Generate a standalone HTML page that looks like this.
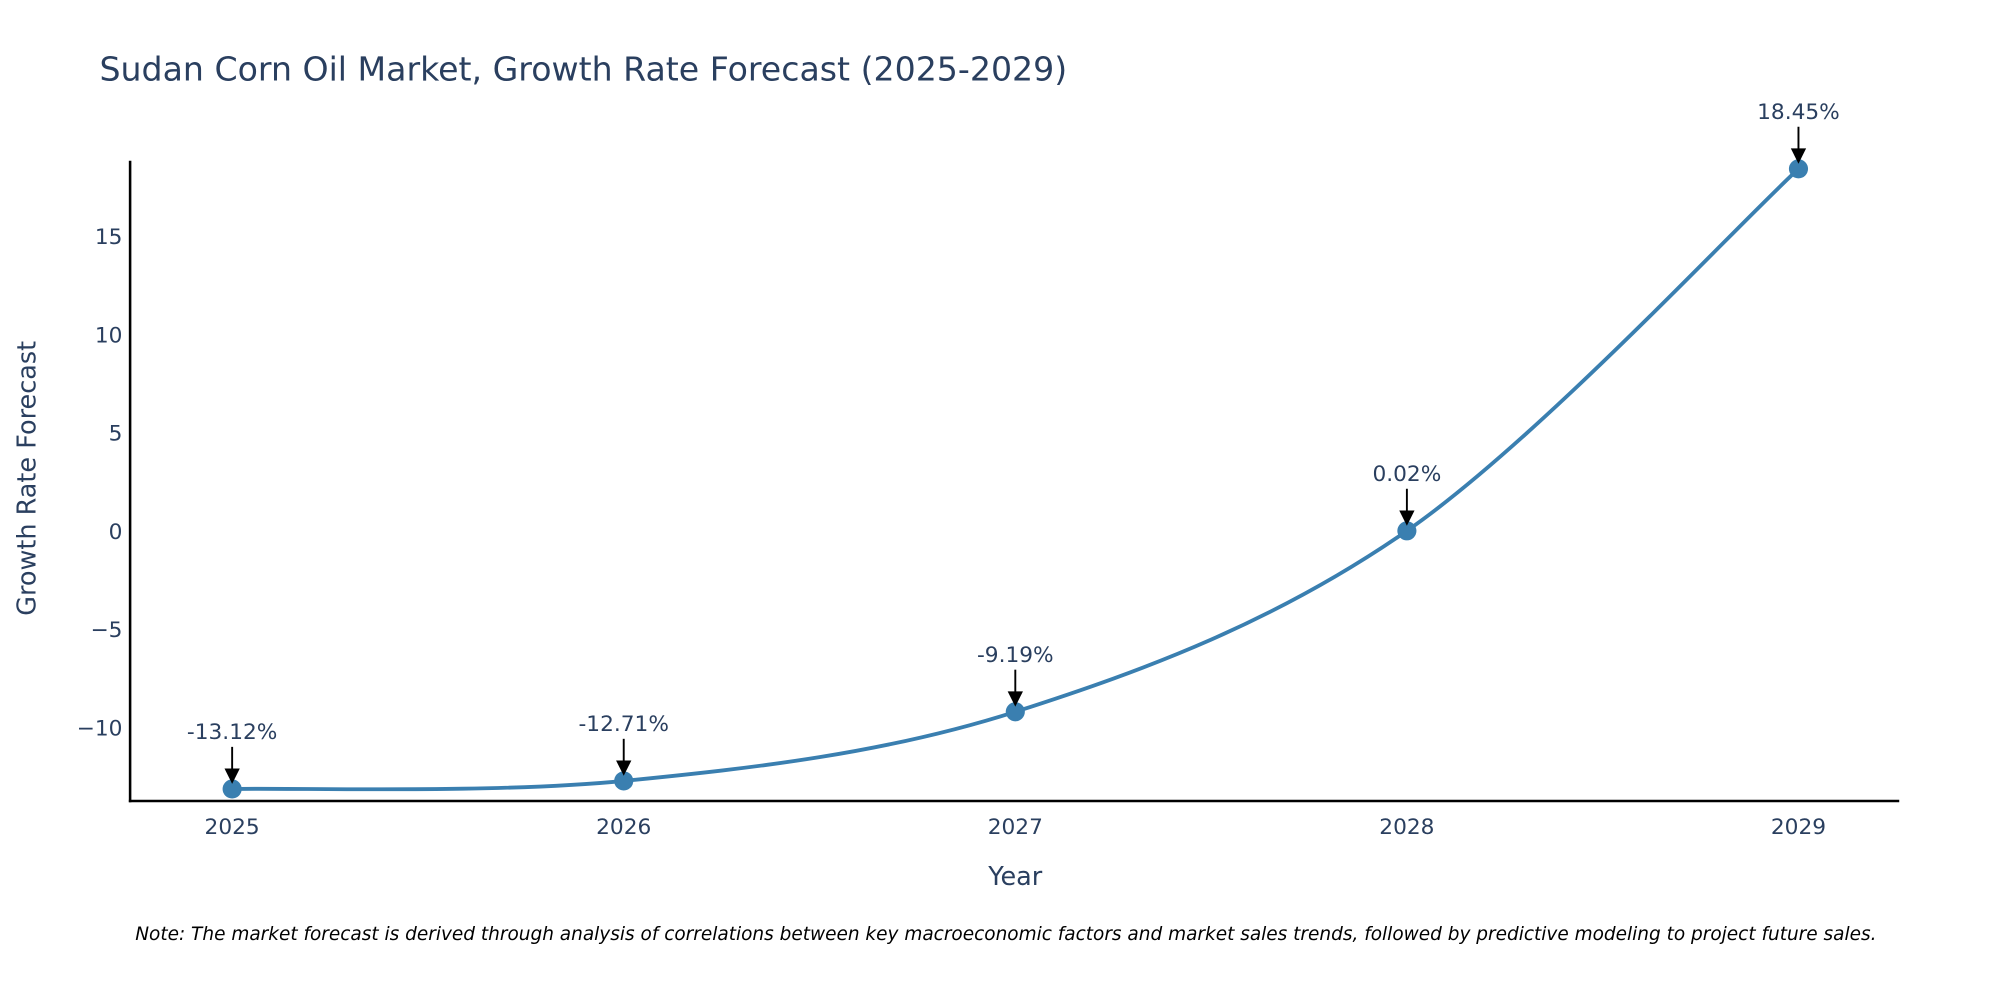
<!DOCTYPE html>
<html><head><meta charset="utf-8"><style>
html,body{margin:0;padding:0;background:#fff;}
svg{display:block;font-family:"DejaVu Sans","Liberation Sans",sans-serif;}
</style></head><body>
<svg width="2000" height="1000" viewBox="0 0 1568 784">
<text x="78" y="63" font-size="26" fill="#2a3f5f">Sudan Corn Oil Market, Growth Rate Forecast (2025-2029)</text>
<g id="yticks"></g>
<g id="xticks"></g>
<line x1="102" y1="126" x2="102" y2="629" stroke="#000" stroke-width="2"/>
<line x1="101" y1="628" x2="1489" y2="628" stroke="#000" stroke-width="2"/>
<g id="series"></g>
<g id="annots"></g>
<text transform="translate(28,375) rotate(-90)" text-anchor="middle" font-size="20" fill="#2a3f5f">Growth Rate Forecast</text>
<text x="796" y="694" text-anchor="middle" font-size="20" fill="#2a3f5f">Year</text>
<text x="106" y="737" font-size="14.5" font-style="italic" fill="#000">Note: The market forecast is derived through analysis of correlations between key macroeconomic factors and market sales trends, followed by predictive modeling to project future sales.</text>
</svg>
<script>
const years = [2025, 2026, 2027, 2028, 2029];
const values = [-13.12, -12.71, -9.19, 0.02, 18.45];
const valueLabels = ["-13.12%", "-12.71%", "-9.19%", "0.02%", "18.45%"];
const yTicks = [-10, -5, 0, 5, 10, 15];
const yTickLabels = ["\u221210", "\u22125", "0", "5", "10", "15"];
const NS = "http://www.w3.org/2000/svg";
function xs(y){ return 182 + (y - 2025) * 307; }
function ys(v){ return 416.5 - v * 15.4; }
function mk(tag, attrs, parent){ const e = document.createElementNS(NS, tag); for (const k in attrs) e.setAttribute(k, attrs[k]); parent.appendChild(e); return e; }
const yg = document.getElementById('yticks');
yTicks.forEach((t,i)=>{
  const tx = mk('text',{x:96,y:ys(t)+6,'text-anchor':'end','font-size':17,fill:'#2a3f5f'},yg);
  
  
  tx.textContent = yTickLabels[i];
});
const xg = document.getElementById('xticks');
years.forEach(y=>{
  const tx = mk('text',{x:xs(y),y:654,'text-anchor':'middle','font-size':17,fill:'#2a3f5f'},xg);
  
  
  tx.textContent = String(y);
});
const pts = years.map((y,i)=>[xs(y), ys(values[i])]);
let d = 'M' + pts[0][0] + ',' + pts[0][1];
for (let i=0;i<pts.length-1;i++){
  const p0 = pts[i-1]||pts[i], p1 = pts[i], p2 = pts[i+1], p3 = pts[i+2]||p2;
  const c1 = [p1[0]+(p2[0]-p0[0])/6, p1[1]+(p2[1]-p0[1])/6];
  const c2 = [p2[0]-(p3[0]-p1[0])/6, p2[1]-(p3[1]-p1[1])/6];
  d += ' C'+c1[0]+','+c1[1]+' '+c2[0]+','+c2[1]+' '+p2[0]+','+p2[1];
}
const sg = document.getElementById('series');
const line = mk('path',{d:d,fill:'none',stroke:'#3a7fb0','stroke-width':3},sg);


pts.forEach(p=>{
  const c = mk('circle',{cx:p[0],cy:p[1],r:7.5,fill:'#3a7fb0'},sg);
  
  
});
const ag = document.getElementById('annots');
pts.forEach((p,i)=>{
  const top = p[1]-33;
  const l = mk('line',{x1:p[0],y1:top,x2:p[0],y2:p[1]-14,stroke:'#000','stroke-width':1.5},ag);
  
  
  const h = mk('polygon',{points:(p[0]-6)+','+(p[1]-16)+' '+(p[0]+6)+','+(p[1]-16)+' '+p[0]+','+(p[1]-4),fill:'#000'},ag);
  
  
  const t = mk('text',{x:p[0],y:top-6,'text-anchor':'middle','font-size':17,fill:'#2a3f5f'},ag);
  
  
  t.textContent = valueLabels[i];
});
</script>
</body></html>
